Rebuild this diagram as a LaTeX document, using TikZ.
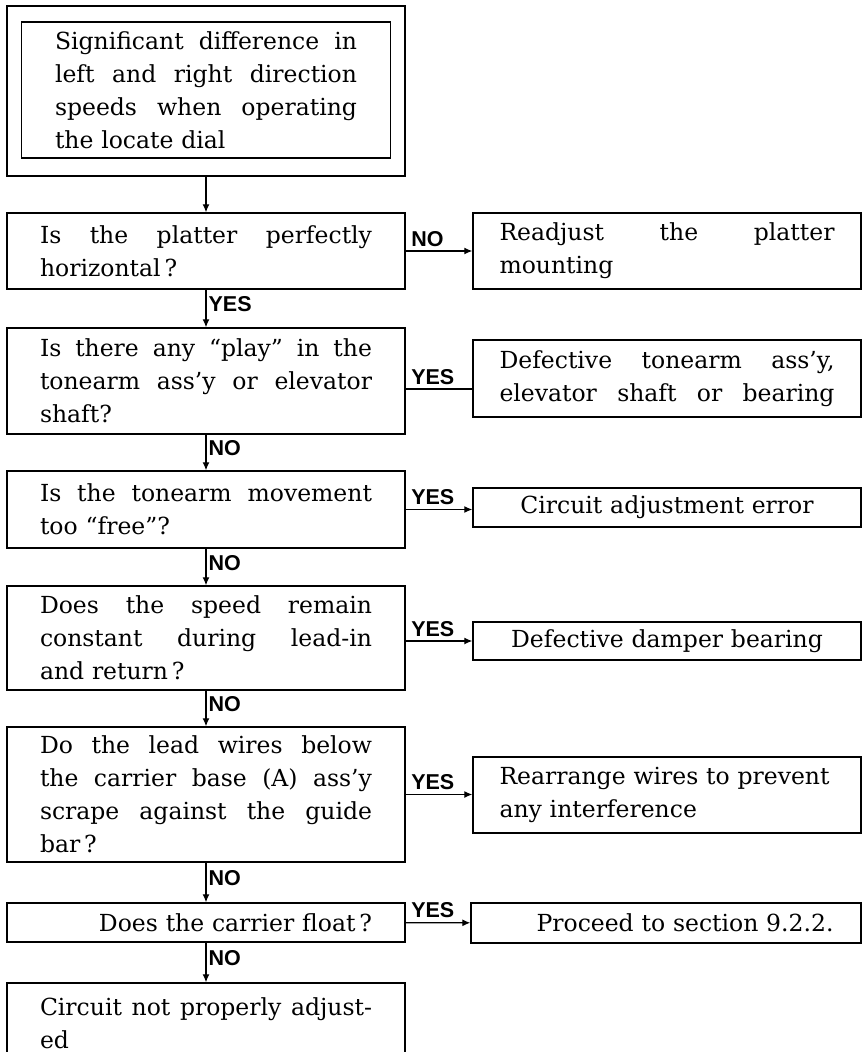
\documentclass[tikz,border=0pt]{standalone}
\usepackage{fontspec}
\setmainfont{DejaVu Serif}
\newfontfamily\tagfont{Liberation Sans}
\usetikzlibrary{arrows.meta,positioning}
\newcommand\jline[2][332pt]{\leavevmode\hbox to #1{\spaceskip=.3em plus 1fil\relax #2}}

\begin{document}
\begin{tikzpicture}[x=1pt,y=-1pt,
  box/.style={draw,line width=1.4pt,inner xsep=0pt,inner ysep=0pt,font=\fontsize{23.5}{33}\selectfont},
  query/.style={box,minimum width=398pt,text width=332pt},
  result/.style={box,minimum width=388pt,text width=335pt},
  flow/.style={-{Latex[length=8pt,width=7pt]},line width=1.2pt},
  link/.style={line width=1.2pt},
  tag/.style={font=\tagfont\bfseries\fontsize{21.5}{21.5}\selectfont,inner sep=1pt},
  down/.style={tag,anchor=west,pos=0.38,xshift=1pt},
  side/.style={tag,anchor=south west,pos=0,xshift=4pt,yshift=3pt}]

  \useasboundingbox (0,0) rectangle (863,1052);

  % starting symptom, double frame
  \node[draw,line width=1.4pt,minimum width=398pt,minimum height=170pt] (startframe) at (206,91) {};
  \node[box,minimum width=369pt,minimum height=136pt,text width=302pt] (start) at (206,90)
    {\jline[302pt]{Significant difference in}\\ \jline[302pt]{left and right direction}\\
     \jline[302pt]{speeds when operating}\\ the locate dial};

  % questions
  \node[query,minimum height=76pt] (platter) at (206,251)
    {\jline{Is the platter perfectly}\\ horizontal\,?};
  \node[query,minimum height=106pt] (play) at (206,381)
    {\jline{Is there any ``play'' in the}\\ \jline{tonearm ass'y or elevator}\\ shaft?};
  \node[query,minimum height=77pt] (free) at (206,509.5)
    {\jline{Is the tonearm movement}\\ too ``free''?};
  \node[query,minimum height=104pt] (speed) at (206,638)
    {\jline{Does the speed remain}\\ \jline{constant during lead-in}\\ and return\,?};
  \node[query,minimum height=135pt] (lead) at (206,794.5)
    {\jline{Do the lead wires below}\\ \jline{the carrier base (A) ass'y}\\ \jline{scrape against the guide}\\ bar\,?};
  \node[query,minimum height=39pt,align=right] (float) at (206,922.5) {Does the carrier float\,?};
  \node[query,minimum height=80pt] (notadj) at (206,1023)
    {\jline{Circuit not properly adjust-}\\ ed};

  % remedies
  \node[result,minimum height=76pt] (readjust) at (667,251)
    {\jline[335pt]{Readjust the platter}\\ mounting};
  \node[result,minimum height=77pt] (tonearm) at (667,378.5)
    {\jline[335pt]{Defective tonearm ass'y,}\\ \jline[335pt]{elevator shaft or bearing}};
  \node[result,minimum height=39pt,align=center] (adjerr) at (667,507.5) {Circuit adjustment error};
  \node[result,minimum height=38pt,align=center] (damper) at (667,641) {Defective damper bearing};
  \node[result,minimum height=76pt] (rearrange) at (667,795)
    {Rearrange wires to prevent\\ any interference};
  \node[result,minimum width=390pt,minimum height=40pt,align=right] (proceed) at (666,923)
    {Proceed to section 9.2.2.};

  % main line
  \draw[flow] (startframe) -- (platter);
  \draw[flow] (platter) -- node[down]{YES} (play);
  \draw[flow] (play) -- node[down]{NO} (free);
  \draw[flow] (free) -- node[down]{NO} (speed);
  \draw[flow] (speed) -- node[down]{NO} (lead);
  \draw[flow] (lead) -- node[down]{NO} (float);
  \draw[flow] (float) -- node[down]{NO} (notadj);

  % side branches
  \draw[flow] (platter) -- node[side]{NO} (readjust);
  \draw[link] ([yshift=-8pt]play.east) -- node[side]{YES} ([yshift=-8pt]play.east -| tonearm.west);
  \draw[flow] (free.east) -- node[side]{YES} (free.east -| adjerr.west);
  \draw[flow] (damper.west -| speed.east) -- node[side]{YES} (damper.west);
  \draw[flow] (lead.east) -- node[side]{YES} (lead.east -| rearrange.west);
  \draw[flow] (float) -- node[side]{YES} (proceed);
\end{tikzpicture}
\end{document}
